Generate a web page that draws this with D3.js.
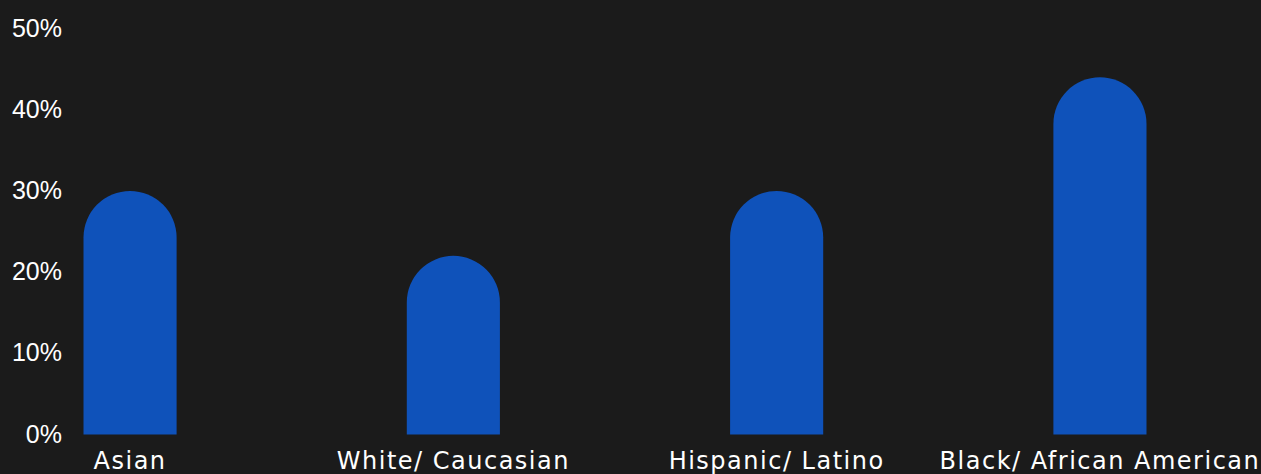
<!DOCTYPE html>
<html>
<head>
<meta charset="utf-8">
<script src="https://cdn.jsdelivr.net/npm/d3@7"></script>
<style>
  html, body { margin: 0; padding: 0; background: #1b1b1b; }
  svg { display: block; }
</style>
</head>
<body>
<svg id="chart" width="1261" height="474"></svg>
<script>
const categories = ["Asian", "White/ Caucasian", "Hispanic/ Latino", "Black/ African American"];
const values = [30, 22, 30, 44];
const tickValues = [0, 10, 20, 30, 40, 50];
const tickLabels = ["0%", "10%", "20%", "30%", "40%", "50%"];

const W = 1261, H = 474;
const svg = d3.select("#chart");
svg.append("rect").attr("width", W).attr("height", H).attr("fill", "#1b1b1b");

const y = d3.scaleLinear().domain([0, 50]).range([434.5, 28.5]);
const x = d3.scaleBand().domain(categories).range([83.5, 1146.5]).paddingInner(0.712).paddingOuter(0);

// y axis
const yAxis = d3.axisLeft(y).tickValues(tickValues).tickFormat((d, i) => tickLabels[i]).tickSize(0).tickPadding(0);
const yg = svg.append("g").attr("transform", "translate(62,0)").call(yAxis);
yg.select(".domain").remove();
yg.selectAll("text")
  .attr("fill", "#ffffff")
  .attr("font-family", "'Liberation Sans', Arial, sans-serif")
  .attr("font-size", 25)
  .attr("dy", "0.3em");

// bars with rounded tops
const bw = x.bandwidth();
const r = bw / 2;
svg.append("g").selectAll("path").data(categories).join("path")
  .attr("fill", "#0f52ba")
  .attr("d", (c, i) => {
    const x0 = x(c), x1 = x0 + bw;
    const yb = y(0), yt = y(values[i]);
    const ys = yt + r;
    return `M${x0},${yb}L${x0},${ys}A${r},${r} 0 0 1 ${x1},${ys}L${x1},${yb}Z`;
  });

// x axis labels
const xAxis = d3.axisBottom(x).tickSize(0).tickPadding(0);
const xg = svg.append("g").attr("transform", "translate(0,435)").call(xAxis);
xg.select(".domain").remove();
xg.selectAll("text")
  .attr("fill", "#ffffff")
  .attr("font-family", "'DejaVu Sans', sans-serif")
  .attr("font-size", 24)
  .attr("letter-spacing", "1.5px")
  .attr("dy", "0")
  .attr("y", 34);
</script>
</body>
</html>
